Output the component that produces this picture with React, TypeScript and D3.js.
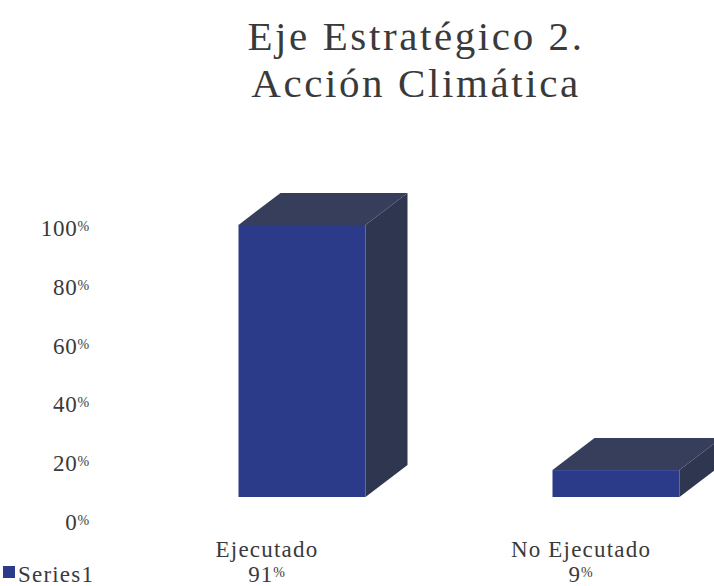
import React from "react";
import * as d3 from "d3";

const categories = ["Ejecutado", "No Ejecutado"];
const values = [91, 9];
const valueLabels = ["91", "9"];
const tickValues = [0, 20, 40, 60, 80, 100];
const titleLines = ["Eje Estratégico 2.", "Acción Climática"];
const seriesName = "Series1";

const W = 714;
const H = 586;
const FRONT = "#2c3a8a";
const TOP = "#363e5c";
const SIDE = "#2f3650";
const TEXT = "#3a3a3a";
const FONT = "'Liberation Serif', 'Times New Roman', serif";

export default function App() {
  const yBar = d3.scaleLinear().domain([0, 100]).range([497, 198]);
  const yAxis = d3.scaleLinear().domain([0, 100]).range([522, 228]);
  const x = d3.scalePoint<string>().domain(categories).range([302, 616]);
  const bw = 127;
  const dx = 42;
  const dy = -32;

  return (
    <svg
      width={W}
      height={H}
      viewBox={`0 0 ${W} ${H}`}
      style={{ position: "absolute", left: 0, top: 0, background: "#fff" }}
    >
      <g fontFamily={FONT} fill={TEXT}>
        {titleLines.map((t, i) => (
          <text
            key={t}
            x={416}
            y={50 + i * 47}
            textAnchor="middle"
            fontSize={41}
            letterSpacing={2.6}
          >
            {t}
          </text>
        ))}
      </g>

      {categories.map((c, i) => {
        const cx = x(c)!;
        const x0 = cx - bw / 2;
        const x1 = cx + bw / 2;
        const yb = yBar(0);
        const yt = yBar(values[i]);
        const top = `M${x0},${yt} L${x0 + dx},${yt + dy} L${x1 + dx},${yt + dy} L${x1},${yt} Z`;
        const side = `M${x1},${yt} L${x1 + dx},${yt + dy} L${x1 + dx},${yb + dy} L${x1},${yb} Z`;
        return (
          <g key={c}>
            <path d={side} fill={SIDE} />
            <path d={top} fill={TOP} />
            <rect x={x0} y={yt} width={bw} height={yb - yt} fill={FRONT} />
          </g>
        );
      })}

      <g fontFamily={FONT} fill={TEXT}>
        {tickValues.map((v) => (
          <text key={v} x={90} y={yAxis(v) + 8} textAnchor="end" fontSize={23} letterSpacing={0.8}>
            {v}
            <tspan fontSize={14} dy={-5}>%</tspan>
          </text>
        ))}

        {categories.map((c, i) => {
          const cx = x(c)! - 35;
          return (
            <g key={c}>
              <text x={cx} y={557} textAnchor="middle" fontSize={23} letterSpacing={1.2}>
                {c}
              </text>
              <text x={cx} y={582} textAnchor="middle" fontSize={23} letterSpacing={1}>
                {valueLabels[i]}
                <tspan fontSize={14} dy={-5}>%</tspan>
              </text>
            </g>
          );
        })}

        <rect x={3} y={566} width={12} height={12} fill={FRONT} />
        <text x={18} y={582} fontSize={23} letterSpacing={1.2}>
          {seriesName}
        </text>
      </g>
    </svg>
  );
}
